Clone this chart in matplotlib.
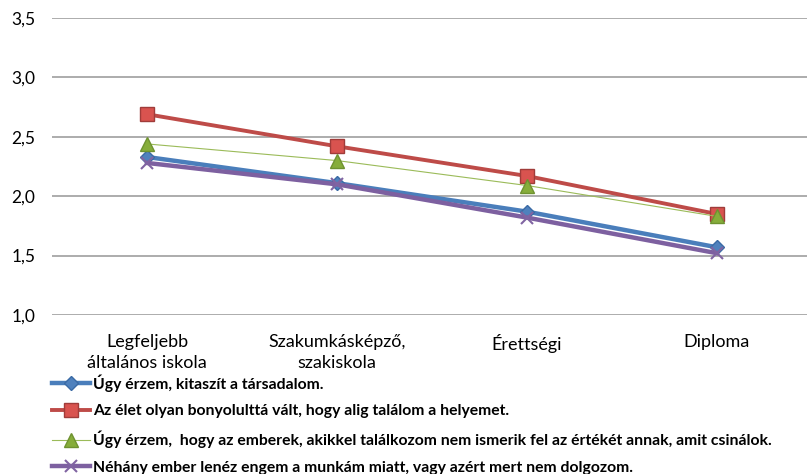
import numpy as np
import matplotlib.pyplot as plt

plt.rcParams['font.family'] = ['Lato', 'DejaVu Sans']

categories = ['Legfeljebb\náltalános iskola', 'Szakumkásképző,\nszakiskola', 'Érettségi', 'Diploma']
s_kitaszit = [2.33, 2.11, 1.87, 1.57]
s_bonyolult = [2.69, 2.42, 2.17, 1.85]
s_nem_ismerik = [2.44, 2.30, 2.09, 1.83]
s_lenez = [2.28, 2.10, 1.82, 1.52]
labels = ['Úgy érzem, kitaszít a társadalom.',
          'Az élet olyan bonyolulttá vált, hogy alig találom a helyemet.',
          'Úgy érzem,  hogy az emberek, akikkel találkozom nem ismerik fel az értékét annak, amit csinálok.',
          'Néhány ember lenéz engem a munkám miatt, vagy azért mert nem dolgozom.']
yticks = [1.0, 1.5, 2.0, 2.5, 3.0, 3.5]

fig = plt.figure(figsize=(8.07, 4.74), dpi=100)
ax = fig.add_axes([52 / 807, 159 / 474, 755 / 807, 297 / 474])

x = np.arange(len(categories))
ax.plot(x, s_kitaszit, color='#4A7EBB', lw=3.2, marker='D', ms=7.5,
        mfc='#4F81BD', mec='#3A6AA5', label=labels[0], zorder=3)
ax.plot(x, s_bonyolult, color='#BE4B48', lw=2.8, marker='s', ms=9.5,
        mfc='#D9534F', mec='#A03C3A', label=labels[1], zorder=3)
ax.plot(x, s_nem_ismerik, color='#9BBB59', lw=0.8, marker='^', ms=10.5,
        mfc='#86AD3A', mec='#6E9230', label=labels[2], zorder=3)
ax.plot(x, s_lenez, color='#7D60A0', lw=3.2, marker='x', ms=8.5, mew=1.5,
        mec='#8064A2', label=labels[3], zorder=3)

ax.set_xlim(-0.5, 3.474)
ax.set_ylim(1.0, 3.5)
ax.set_yticks(yticks)
ax.set_yticklabels([f'{v:.1f}'.replace('.', ',') for v in yticks], fontsize=12.5)
ax.set_xticks(x)
ax.set_xticklabels(categories, fontsize=13, linespacing=1.35)
ax.tick_params(length=0, pad=12, axis='y')
ax.tick_params(length=0, pad=14, axis='x')
ax.grid(axis='y', color='#A6A6A6', lw=1.3)
ax.set_axisbelow(True)
for sp in ax.spines.values():
    sp.set_visible(False)

fig.legend(loc='upper left', bbox_to_anchor=(52 / 807, 1 - 374 / 474),
           frameon=False, prop={'weight': 'bold', 'size': 11.3},
           handlelength=2.4, handletextpad=0.2, labelspacing=0.8,
           borderpad=0, borderaxespad=0)

plt.savefig('out.png', dpi=100)
